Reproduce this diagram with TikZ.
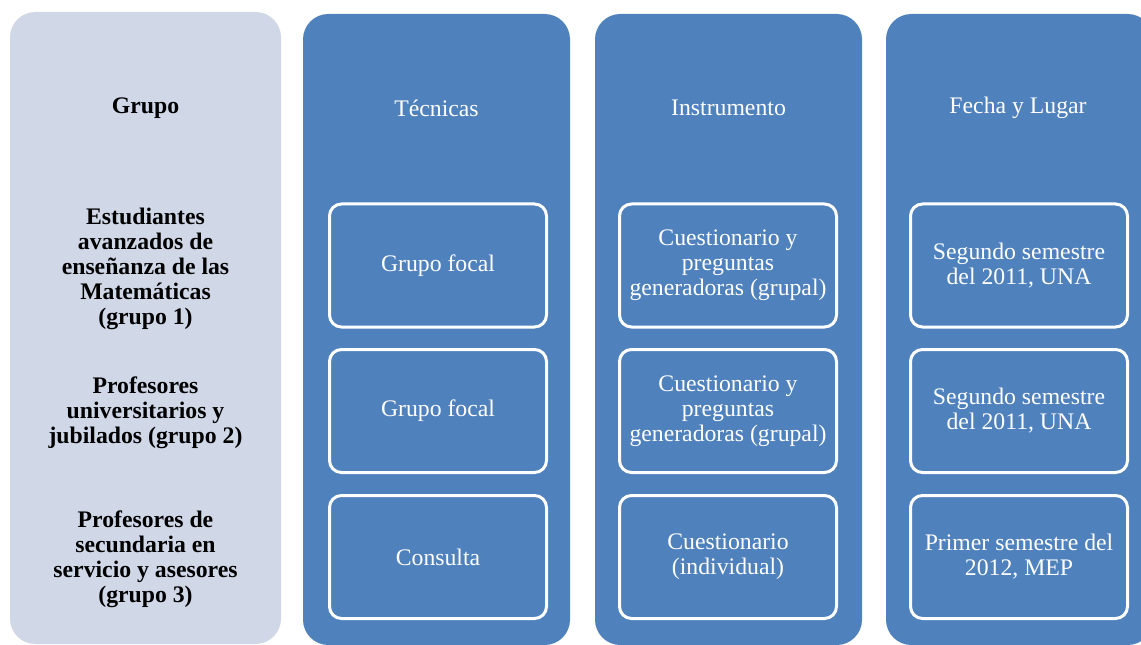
\documentclass[tikz,border=0pt]{standalone}
\usepackage{fontspec}
\setmainfont{Liberation Serif}
\definecolor{lightcol}{HTML}{D0D8E8}
\definecolor{bluecol}{HTML}{4F81BD}
\begin{document}
\begin{tikzpicture}[x=0.75pt,y=-0.75pt,
  colbox/.style={rectangle, rounded corners=19pt, draw=none, inner sep=0pt},
  bluecolbox/.style={colbox, fill=bluecol, minimum width=200.25pt, minimum height=473.25pt},
  inbox/.style={rectangle, rounded corners=9pt, draw=white, line width=2.25pt, fill=bluecol,
    minimum width=162.75pt, minimum height=92.25pt, inner sep=0pt, align=center,
    text=white, font=\fontsize{17.8}{18.75}\selectfont},
  headw/.style={text=white, font=\fontsize{17.8}{18.75}\selectfont, align=center},
  grp/.style={text=black, font=\bfseries\fontsize{17.8}{18.75}\selectfont, align=center}
]
\useasboundingbox (0,0) rectangle (1141,645);
\clip (0,0) rectangle (1141,645);
\fill[white] (0,0) rectangle (1141,645);

% columns
\node[colbox, fill=lightcol, minimum width=203.25pt, minimum height=474pt] (c1) at (145.5,328) {};
\node[bluecolbox] (c2) at (436.5,329.5) {};
\node[bluecolbox] (c3) at (728.5,329.5) {};
\node[bluecolbox] (c4) at (1019.5,329.5) {};

% headers
\node[grp] (h1) at (145.5,108) {Grupo};
\node[headw] (h2) at (436.5,108) {Técnicas};
\node[headw] (h3) at (728.5,108) {Instrumento};
\node[headw] (h4) at (1018,108) {Fecha y Lugar};

% group labels
\node[grp] (g1) at (145.5,269) {Estudiantes\\avanzados de\\enseñanza de las\\Matemáticas\\(grupo 1)};
\node[grp] (g2) at (145.5,413) {Profesores\\universitarios y\\jubilados (grupo 2)};
\node[grp] (g3) at (145.5,559) {Profesores de\\secundaria en\\servicio y asesores\\(grupo 3)};

% techniques
\node[inbox] (t1) at (438,265.5) {Grupo focal};
\node[inbox] (t2) at (438,411) {Grupo focal};
\node[inbox] (t3) at (438,557) {Consulta};

% instruments
\node[inbox] (i1) at (728,265.5) {Cuestionario y\\preguntas\\generadoras (grupal)};
\node[inbox] (i2) at (728,411) {Cuestionario y\\preguntas\\generadoras (grupal)};
\node[inbox] (i3) at (728,557) {Cuestionario\\(individual)};

% dates
\node[inbox] (f1) at (1019,265.5) {Segundo semestre\\del 2011, UNA};
\node[inbox] (f2) at (1019,411) {Segundo semestre\\del 2011, UNA};
\node[inbox] (f3) at (1019,557) {Primer semestre del\\2012, MEP};
\end{tikzpicture}
\end{document}
